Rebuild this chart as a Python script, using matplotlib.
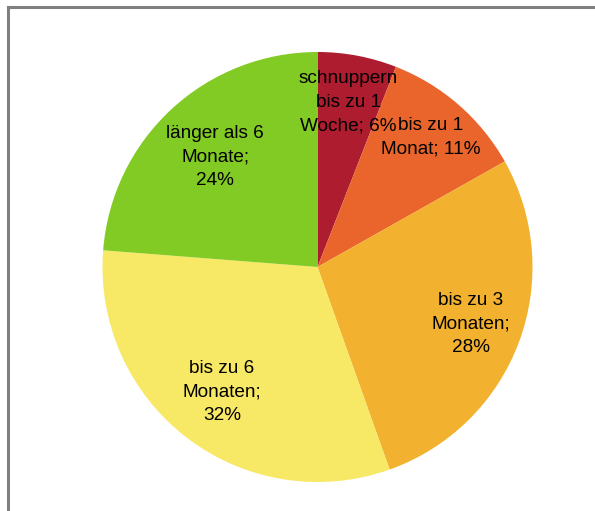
import numpy as np
import matplotlib
matplotlib.use("Agg")
import matplotlib.pyplot as plt
from matplotlib.lines import Line2D

# Daten
kategorien = ["schnuppern\nbis zu 1\nWoche", "bis zu 1\nMonat", "bis zu 3\nMonaten",
              "bis zu 6\nMonaten", "länger als 6\nMonate"]
anteile = [6, 11, 28, 32, 24]
beschriftungen = ["schnuppern\nbis zu 1\nWoche; 6%", "bis zu 1\nMonat; 11%",
                  "bis zu 3\nMonaten;\n28%", "bis zu 6\nMonaten;\n32%",
                  "länger als 6\nMonate;\n24%"]
farben = ["#AD1C2F", "#EA652C", "#F2B12E", "#F7E866", "#82CA24"]
abstaende = [0.78, 0.80, 0.76, 0.73, 0.70]

plt.rcParams["font.family"] = ["Liberation Sans", "DejaVu Sans"]

fig = plt.figure(figsize=(5.95, 5.11), dpi=100)
ax = fig.add_axes([0, 0, 1, 1])

mitte = (317.5, 244)
radius = 215
wedges, _ = ax.pie(anteile, colors=farben, startangle=90, counterclock=False,
                   center=mitte, radius=radius, frame=True)
ax.set_xlim(0, 595)
ax.set_ylim(0, 511)
ax.axis("off")

# Beschriftungen in den Segmenten
for w, txt, d in zip(wedges, beschriftungen, abstaende):
    winkel = np.deg2rad((w.theta1 + w.theta2) / 2)
    x = mitte[0] + d * radius * np.cos(winkel)
    y = mitte[1] + d * radius * np.sin(winkel)
    ax.text(x, y, txt, ha="center", va="center", fontsize=13.7, linespacing=1.5, color="black")

# grauer Rahmen oben und links
fig.add_artist(Line2D([7.5 / 595, 7.5 / 595], [0, 1 - 7.5 / 511], color="#808080", lw=2.2,
                      transform=fig.transFigure))
fig.add_artist(Line2D([7.5 / 595, 1], [1 - 7.5 / 511, 1 - 7.5 / 511], color="#808080", lw=2.2,
                      transform=fig.transFigure))

fig.savefig("out.png", dpi=100)
